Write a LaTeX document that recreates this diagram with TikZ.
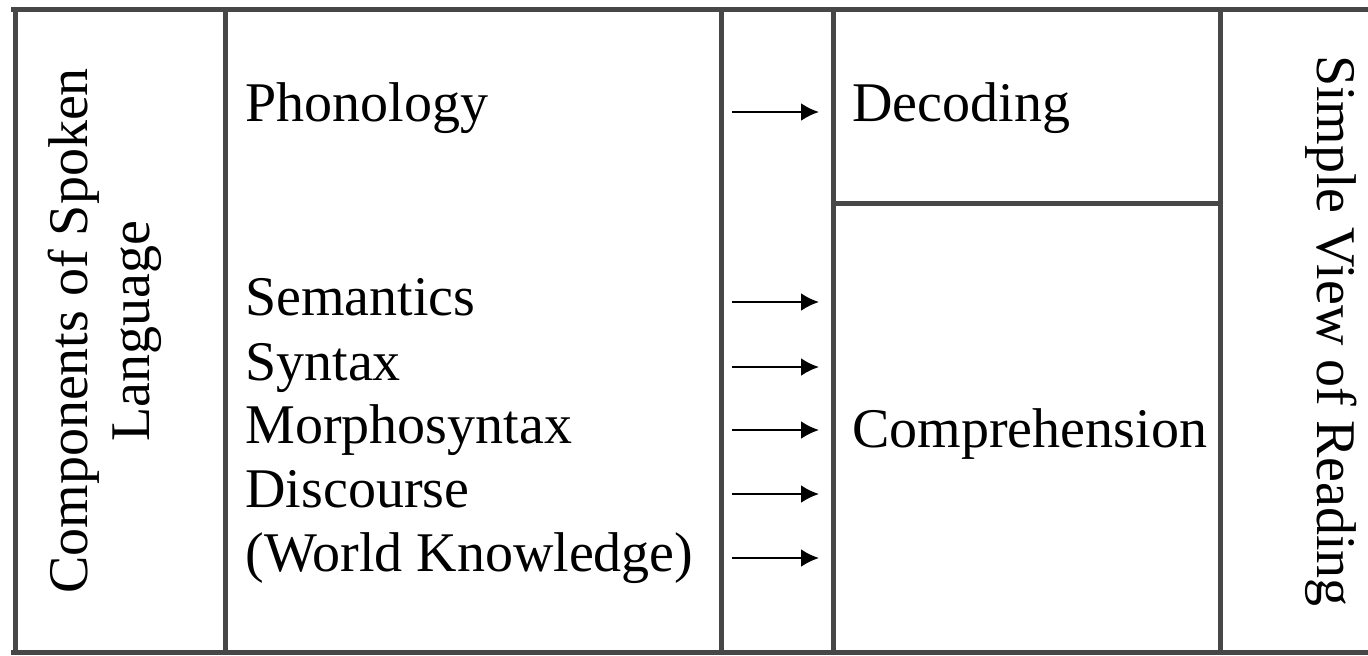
\documentclass[tikz,border=0pt]{standalone}
\usepackage{fontspec}
\setmainfont{Liberation Serif}
\usetikzlibrary{arrows.meta}

\tikzstyle{item} = [anchor=base west, inner sep=0pt]
\tikzstyle{side} = [align=center, inner sep=0pt]
\tikzstyle{rule} = [draw=black!72, line width=2.5pt]
\tikzstyle{feed} = [-{Latex[length=9pt,width=9pt]}, line width=1.3pt]

\begin{document}
\begin{tikzpicture}[x=0.5pt, y=-0.5pt, font=\fontsize{28}{31}\selectfont]
\useasboundingbox (0,0) rectangle (1368,655);

% table frame
\draw[rule] (11,9.5) -- (1368,9.5);
\draw[rule] (11,652) -- (1368,652);
\foreach \x in {15,225,721,833,1220}
    \draw[rule] (\x,9.5) -- (\x,652);
\draw[rule] (833,203) -- (1220,203);

% side titles
\node[side, rotate=90] (spoken) at (105,331) {Components of Spoken\\Language};
\node[side, rotate=-90] (reading) at (1331,331) {Simple View of Reading};

% spoken language components
\node[item] (phon) at (245,121) {Phonology};
\coordinate (phon-s) at (732,112);
\coordinate (phon-e) at (819,112);
\draw[feed] (phon-s) -- (phon-e);

\foreach \n/\t/\y in {sem/Semantics/315, syn/Syntax/380, morph/Morphosyntax/443,
                      disc/Discourse/507, world/{(World Knowledge)}/571}
{
    \node[item] (\n) at (245,\y) {\t};
    \coordinate (\n-s) at (732,\y-13);
    \coordinate (\n-e) at (819,\y-13);
    \draw[feed] (\n-s) -- (\n-e);
}

% reading
\node[item] (dec) at (852,121) {Decoding};
\node[item] (comp) at (852,447) {Comprehension};
\end{tikzpicture}
\end{document}
